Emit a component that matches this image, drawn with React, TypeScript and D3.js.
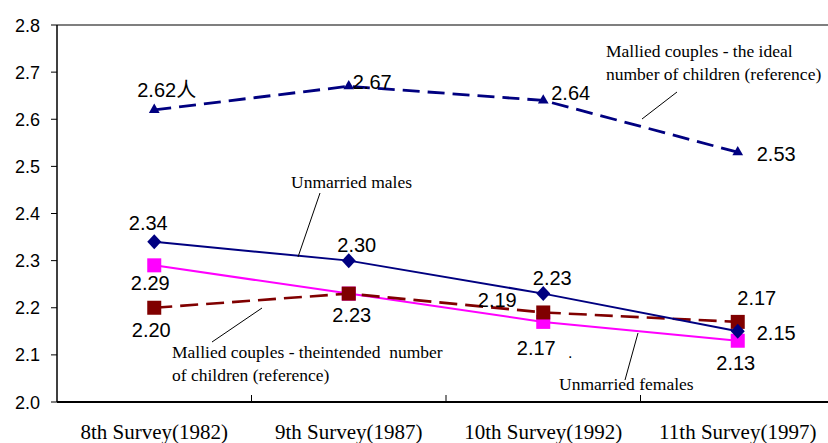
import React from "react";
import * as d3 from "d3";

const categories = ["8th Survey(1982)", "9th Survey(1987)", "10th Survey(1992)", "11th Survey(1997)"];
const idealValues = [2.62, 2.67, 2.64, 2.53];
const maleValues = [2.34, 2.30, 2.23, 2.15];
const femaleValues = [2.29, 2.23, 2.17, 2.13];
const intendedValues = [2.20, 2.23, 2.19, 2.17];
const yTicks = [2.0, 2.1, 2.2, 2.3, 2.4, 2.5, 2.6, 2.7, 2.8];

// label placements (offsets from point), style only
const idealLabels = [
  { text: "2.62人", dx: -17, dy: -13, anchor: "start" },
  { text: "2.67", dx: 4, dy: 3, anchor: "start" },
  { text: "2.64", dx: 8, dy: 0, anchor: "start" },
  { text: "2.53", dx: 19, dy: 9, anchor: "start" },
];
const maleLabels = [
  { text: "2.34", dx: -6, dy: -12, anchor: "middle" },
  { text: "2.30", dx: 8, dy: -9, anchor: "middle" },
  { text: "2.23", dx: 9, dy: -9, anchor: "middle" },
  { text: "2.15", dx: 19, dy: 9, anchor: "start" },
];
const femaleLabels = [
  { text: "2.29", dx: -4, dy: 25, anchor: "middle" },
  null,
  { text: "2.17", dx: -7, dy: 33, anchor: "middle" },
  { text: "2.13", dx: -2, dy: 29, anchor: "middle" },
];
const intendedLabels = [
  { text: "2.20", dx: -3, dy: 29, anchor: "middle" },
  { text: "2.23", dx: 3, dy: 28, anchor: "middle" },
  { text: "2.19", dx: -46, dy: -5, anchor: "middle" },
  { text: "2.17", dx: 19, dy: -17, anchor: "middle" },
];

const annotations = [
  { text: "Mallied couples - the ideal", x: 606, y: 57 },
  { text: "number of children (reference)", x: 606, y: 80 },
  { text: "Unmarried males", x: 291, y: 188 },
  { text: "Mallied couples - theintended  number", x: 172, y: 358 },
  { text: "of children (reference)", x: 172, y: 381 },
  { text: "Unmarried females", x: 559, y: 390 },
];

const W = 828;
const H = 443;
const left = 57;
const top = 25;
const bottom = 402;
const right = 835;

const NAVY = "#000080";
const MAGENTA = "#FF00FF";
const MAROON = "#800000";
const SANS = "'Liberation Sans', Arial, 'Noto Sans CJK SC', sans-serif";
const SERIF = "'Liberation Serif', 'Times New Roman', serif";

export default function App() {
  const x = d3.scaleBand<string>().domain(categories).range([left, right]);
  const y = d3.scaleLinear().domain([2.0, 2.8]).range([bottom, top]);
  const cx = (i: number) => (x(categories[i]) as number) + x.bandwidth() / 2;

  const line = d3
    .line<number>()
    .x((_, i) => cx(i))
    .y((d) => y(d));

  const labelEls = (vals: number[], labels: any[], key: string) =>
    vals.map((v, i) => {
      const l = labels[i];
      if (!l) return null;
      return (
        <text
          key={key + i}
          x={cx(i) + l.dx}
          y={y(v) + l.dy}
          textAnchor={l.anchor}
          style={{ fontFamily: SANS, fontSize: "20px" }}
          fill="#000"
        >
          {l.text}
        </text>
      );
    });

  const tri = d3.symbol().type(d3.symbolTriangle).size(50)();

  return (
    <svg width={W} height={H} style={{ position: "absolute", left: 0, top: 0, background: "#fff" }}>
      <rect x={0} y={0} width={W} height={H} fill="#fff" />
      {/* frame */}
      <line x1={left} y1={top} x2={W} y2={top} stroke="#000" strokeWidth={1.2} />
      <line x1={left} y1={top} x2={left} y2={bottom} stroke="#000" strokeWidth={1.5} />
      <line x1={left} y1={bottom} x2={W} y2={bottom} stroke="#000" strokeWidth={2} />
      {/* y ticks */}
      {yTicks.map((t) => (
        <g key={"yt" + t}>
          <line x1={left - 6} x2={left} y1={y(t)} y2={y(t)} stroke="#000" strokeWidth={1} />
          <text
            x={40}
            y={y(t) + 6.5}
            textAnchor="end"
            style={{ fontFamily: SANS, fontSize: "18px" }}
            fill="#000"
          >
            {t.toFixed(1)}
          </text>
        </g>
      ))}
      {/* x ticks */}
      {categories.slice(1).map((c) => (
        <line
          key={"xt" + c}
          x1={x(c) as number}
          x2={x(c) as number}
          y1={bottom - 7}
          y2={bottom}
          stroke="#000"
          strokeWidth={1}
        />
      ))}
      {categories.map((c, i) => (
        <text
          key={"xl" + c}
          x={cx(i)}
          y={439}
          textAnchor="middle"
          style={{ fontFamily: SERIF, fontSize: "21px" }}
          fill="#000"
        >
          {c}
        </text>
      ))}

      {/* females */}
      <path d={line(femaleValues) || ""} fill="none" stroke={MAGENTA} strokeWidth={2} />
      {femaleValues.map((v, i) => (
        <rect key={"fs" + i} x={cx(i) - 7} y={y(v) - 7} width={14} height={14} fill={MAGENTA} />
      ))}
      {/* intended */}
      <path
        d={line(intendedValues) || ""}
        fill="none"
        stroke={MAROON}
        strokeWidth={2.6}
        strokeDasharray="18,8"
      />
      {intendedValues.map((v, i) => (
        <rect key={"is" + i} x={cx(i) - 7} y={y(v) - 7} width={14} height={14} fill={MAROON} />
      ))}
      {/* males */}
      <path d={line(maleValues) || ""} fill="none" stroke={NAVY} strokeWidth={2} />
      {maleValues.map((v, i) => (
        <path
          key={"md" + i}
          d={`M${cx(i)},${y(v) - 7.5}L${cx(i) + 7},${y(v)}L${cx(i)},${y(v) + 7.5}L${cx(i) - 7},${y(v)}Z`}
          fill={NAVY}
        />
      ))}
      {/* ideal */}
      <path
        d={line(idealValues) || ""}
        fill="none"
        stroke={NAVY}
        strokeWidth={2.8}
        strokeDasharray="17,8"
      />
      {idealValues.map((v, i) => (
        <path key={"it" + i} d={tri || ""} transform={`translate(${cx(i)},${y(v)})`} fill={NAVY} />
      ))}

      {labelEls(idealValues, idealLabels, "il")}
      {labelEls(maleValues, maleLabels, "ml")}
      {labelEls(femaleValues, femaleLabels, "fl")}
      {labelEls(intendedValues, intendedLabels, "nl")}
      <text x={568} y={358} style={{ fontFamily: SANS, fontSize: "16px" }} fill="#000">.</text>

      {/* annotations */}
      {annotations.map((a, i) => (
        <text
          key={"an" + i}
          x={a.x}
          y={a.y}
          style={{ fontFamily: SERIF, fontSize: "17.5px", whiteSpace: "pre" }}
          fill="#000"
        >
          {a.text}
        </text>
      ))}
      <g stroke="#000" strokeWidth={1}>
        <line x1={677} y1={92} x2={642} y2={119} />
        <line x1={320} y1={193} x2={298} y2={257} />
        <line x1={212} y1={342} x2={262} y2={308} />
        <line x1={625} y1={380} x2={638} y2={333} />
      </g>
    </svg>
  );
}
